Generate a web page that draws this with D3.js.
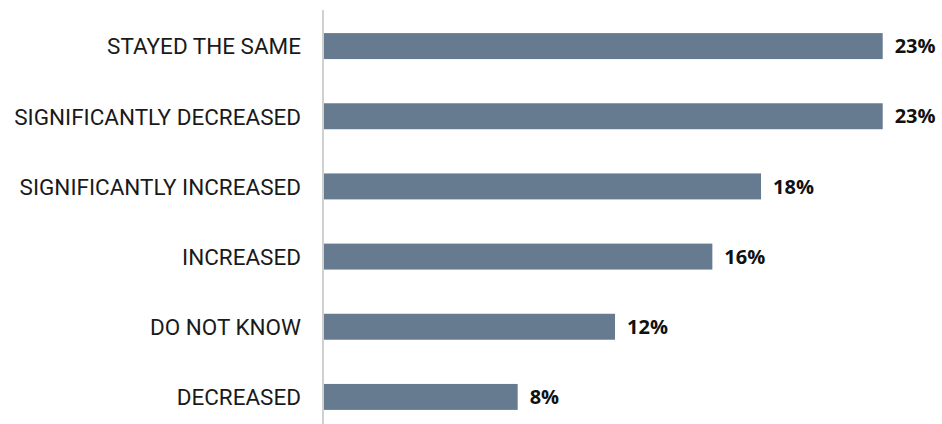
<!DOCTYPE html>
<html>
<head>
<meta charset="utf-8">
<script src="https://cdn.jsdelivr.net/npm/d3@7"></script>
<style>
  html, body { margin: 0; padding: 0; background: #fff; }
  svg { display: block; }
</style>
</head>
<body>
<svg id="chart" width="942" height="424"></svg>
<script>
// Survey responses, percent of respondents
const categories = [
  "STAYED THE SAME",
  "SIGNIFICANTLY DECREASED",
  "SIGNIFICANTLY INCREASED",
  "INCREASED",
  "DO NOT KNOW",
  "DECREASED"
];
const values = [23, 23, 18, 16, 12, 8];
const valueLabels = ["23%", "23%", "18%", "16%", "12%", "8%"];

const data = categories.map((c, i) => ({ category: c, value: values[i], label: valueLabels[i] }));

const svg = d3.select("#chart");
const W = 942, H = 424;
const x0 = 323;
const labelPad = 22;
const labelSpan = 287; // width given to the longest category name

const x = d3.scaleLinear().domain([0, 23]).range([x0, 882.7]);
const y = d3.scaleBand()
  .domain(categories)
  .range([11, 432])
  .paddingInner(0.63)
  .paddingOuter(0.315);

// bars
svg.append("g").selectAll("rect")
  .data(data)
  .join("rect")
  .attr("x", x(0))
  .attr("y", d => y(d.category))
  .attr("width", d => x(d.value) - x(0))
  .attr("height", y.bandwidth())
  .attr("fill", "#677b90");

// category axis
const axis = svg.append("g")
  .attr("transform", `translate(${x0},0)`)
  .call(d3.axisLeft(y).tickSize(0).tickPadding(labelPad));
axis.select(".domain").remove();
const catText = axis.selectAll("text")
  .attr("font-family", "Roboto, sans-serif")
  .attr("font-size", 23)
  .attr("dy", "0.36em")
  .attr("fill", "#1a1a1a");

// narrow the lettering so the longest name fits its span
const widest = d3.max(catText.nodes(), n => n.getBBox().width);
const k = labelSpan / widest;
catText.attr("transform", `translate(${-labelPad},0) scale(${k},1) translate(${labelPad},0)`);

// vertical baseline
svg.append("line")
  .attr("x1", x0).attr("x2", x0)
  .attr("y1", 10).attr("y2", H)
  .attr("stroke", "#d0d0d0")
  .attr("stroke-width", 2);

// value labels
svg.append("g").selectAll("text")
  .data(data)
  .join("text")
  .attr("x", d => x(d.value) + 12)
  .attr("y", d => y(d.category) + y.bandwidth() / 2)
  .attr("dy", "0.36em")
  .attr("font-family", "'Open Sans', 'Liberation Sans', sans-serif")
  .attr("font-weight", "bold")
  .attr("font-size", 20)
  .attr("fill", "#111")
  .text(d => d.label);
</script>
</body>
</html>
